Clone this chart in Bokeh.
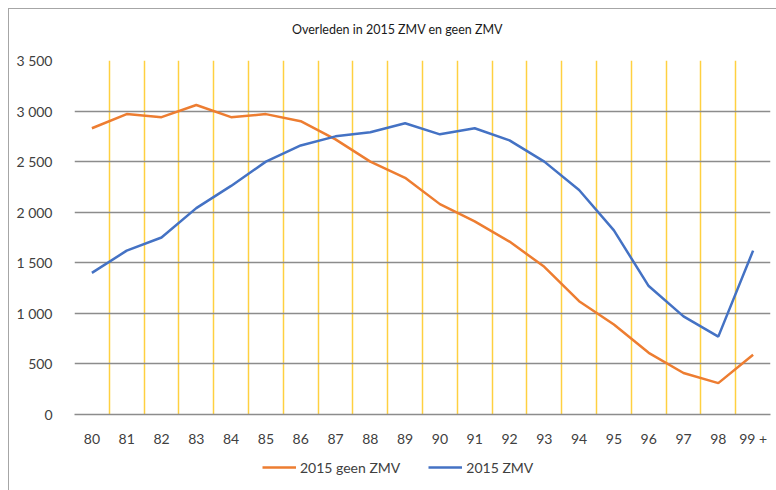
from bokeh.plotting import figure
from bokeh.layouts import column
from bokeh.models import FixedTicker, Legend, LegendItem, ColumnDataSource, Label
from bokeh.embed import file_html
from bokeh.resources import INLINE

title_text = "Overleden in 2015 ZMV en geen ZMV"
categories = ["80", "81", "82", "83", "84", "85", "86", "87", "88", "89",
              "90", "91", "92", "93", "94", "95", "96", "97", "98", "99 +"]
geen_zmv = [2830, 2970, 2940, 3060, 2940, 2970, 2900, 2720, 2500, 2340,
            2080, 1910, 1710, 1460, 1120, 890, 610, 410, 310, 590]
zmv = [1400, 1620, 1750, 2040, 2260, 2500, 2660, 2750, 2790, 2880,
       2770, 2830, 2710, 2500, 2220, 1820, 1270, 970, 770, 1620]
series_names = ["2015 geen ZMV", "2015 ZMV"]
y_ticks = [0, 500, 1000, 1500, 2000, 2500, 3000, 3500]
y_tick_labels = ["0", "500", "1 000", "1 500", "2 000", "2 500", "3 000", "3 500"]

xs = [i + 0.5 for i in range(len(categories))]
src = ColumnDataSource(dict(x=xs, geen=geen_zmv, zmv=zmv))

FONT = "Lato"
ORANGE = "#ED7D31"
BLUE = "#4472C4"

# title strip
top = figure(width=767, height=42, output_backend="svg", toolbar_location=None,
             x_range=(0, 1), y_range=(0, 1), min_border=0)
top.axis.visible = False
top.grid.visible = False
top.outline_line_color = None
top.add_layout(Label(x=323, y=22, x_units="screen", y_units="screen", text=title_text,
                     text_align="center", text_baseline="middle", text_font=FONT,
                     text_font_size="12.5px", text_color="#1a1a1a"))

p = figure(width=767, height=400, output_backend="svg", toolbar_location=None,
           x_range=(0, len(categories)), y_range=(0, 3500),
           min_border_left=65, min_border_right=6, min_border_top=9, min_border_bottom=37)

p.outline_line_color = None
p.background_fill_color = "white"
p.border_fill_color = "white"

# x axis
p.xaxis.ticker = FixedTicker(ticks=xs)
p.xaxis.major_label_overrides = {x: c for x, c in zip(xs, categories)}
p.xaxis.major_tick_line_color = None
p.xaxis.minor_tick_line_color = None
p.xaxis.axis_line_color = "#8c8c8c"
p.xaxis.axis_line_width = 1.5
p.xaxis.major_label_text_font = FONT
p.xaxis.major_label_text_font_size = "14px"
p.xaxis.major_label_text_color = "#404040"
p.xaxis.major_label_standoff = 9

# y axis
p.yaxis.ticker = FixedTicker(ticks=y_ticks)
p.yaxis.major_label_overrides = {t: l for t, l in zip(y_ticks, y_tick_labels)}
p.yaxis.major_tick_line_color = None
p.yaxis.minor_tick_line_color = None
p.yaxis.axis_line_color = None
p.yaxis.major_label_text_font = FONT
p.yaxis.major_label_text_font_size = "14px"
p.yaxis.major_label_text_color = "#404040"
p.yaxis.major_label_standoff = 16

# grids
p.xgrid.ticker = FixedTicker(ticks=list(range(0, len(categories) + 1)))
p.xgrid.grid_line_color = "#FFC000"
p.xgrid.grid_line_alpha = 0.75
p.xgrid.grid_line_width = 1.5
p.ygrid.ticker = FixedTicker(ticks=y_ticks)
p.ygrid.grid_line_color = "#8c8c8c"
p.ygrid.grid_line_width = 1.5

p.line("x", "geen", source=src, line_color=ORANGE, line_width=2.5)
p.line("x", "zmv", source=src, line_color=BLUE, line_width=2.5)

# legend strip (separate small figure, lines kept out of view)
leg = figure(width=767, height=39, output_backend="svg", toolbar_location=None,
             x_range=(0, len(categories)), y_range=(-20000, -19000),
             min_border=0)
leg.axis.visible = False
leg.grid.visible = False
leg.outline_line_color = None
l1 = leg.line("x", "geen", source=src, line_color=ORANGE, line_width=2.5)
l2 = leg.line("x", "zmv", source=src, line_color=BLUE, line_width=2.5)
legend = Legend(items=[LegendItem(label=series_names[0], renderers=[l1]),
                       LegendItem(label=series_names[1], renderers=[l2])],
                orientation="horizontal", location=(188, 13),
                border_line_color=None, background_fill_alpha=0,
                label_text_font=FONT, label_text_font_size="14px",
                label_text_color="#404040", glyph_width=34, spacing=28,
                label_standoff=4, margin=0, padding=0)
leg.add_layout(legend)

layout = column(top, p, leg, spacing=0, margin=(8, 0, 0, 8),
                styles={"border-left": "1px solid #a6a6a6", "border-top": "1px solid #a6a6a6"})

open("out.html", "w").write(file_html(layout, INLINE))
